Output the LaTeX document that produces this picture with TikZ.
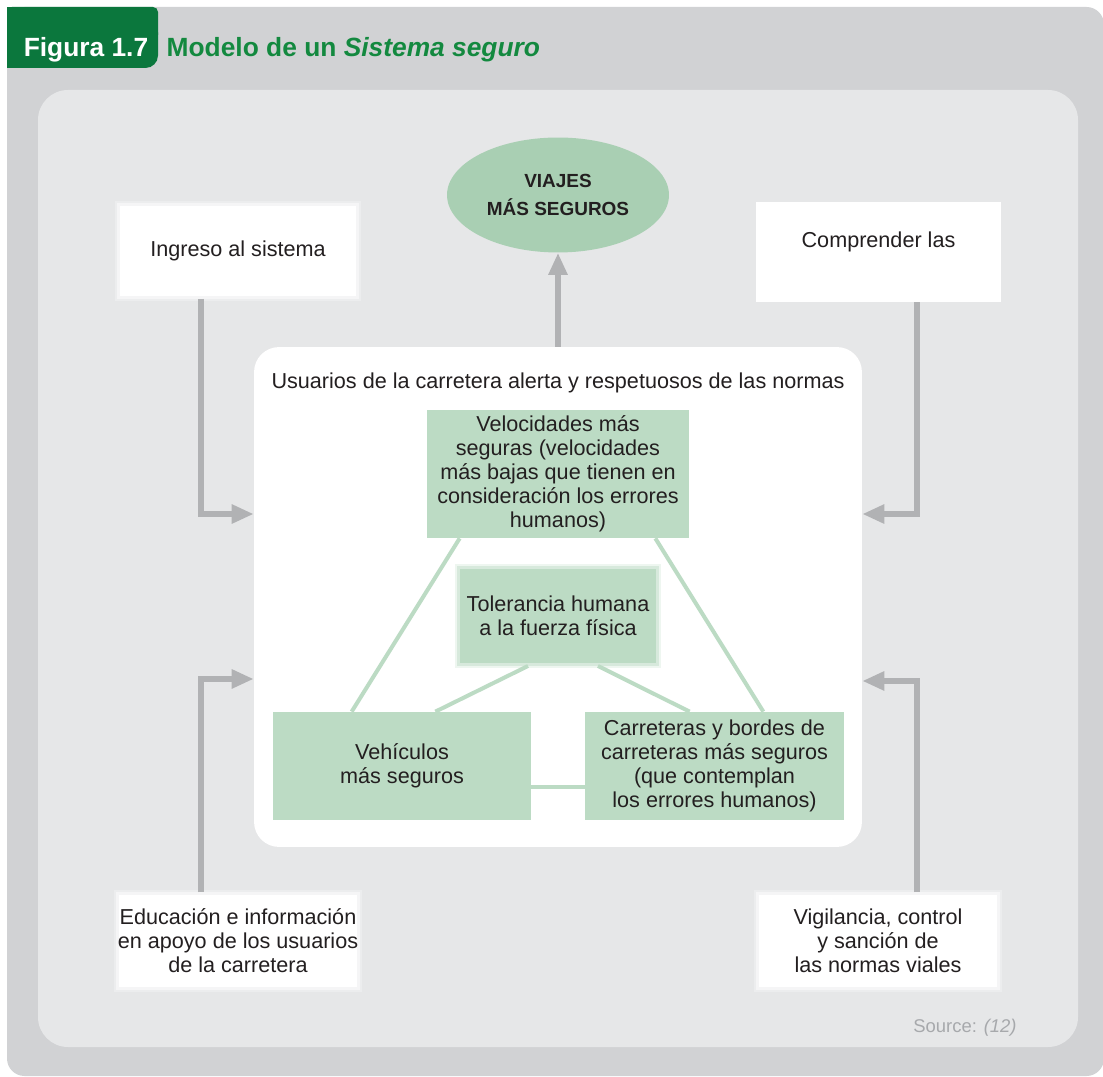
\documentclass[tikz,border=0pt]{standalone}
\usepackage{fontspec}
\setmainfont{Liberation Sans}
\usetikzlibrary{positioning,shapes.geometric,arrows.meta}

\definecolor{outergrey}{HTML}{D1D2D4}
\definecolor{panelgrey}{HTML}{E6E7E8}
\definecolor{tabgreen}{HTML}{0B773D}
\definecolor{titlegreen}{HTML}{13893F}
\definecolor{ovalgreen}{HTML}{A9CFB3}
\definecolor{boxgreen}{HTML}{BCDBC4}
\definecolor{arrowgrey}{HTML}{B1B2B4}
\definecolor{inkgrey}{HTML}{231F20}
\definecolor{notegrey}{HTML}{A7A9AC}

\begin{document}
\begin{tikzpicture}[x=0.02cm, y=-0.02cm, font=\fontsize{12.3}{13.6}\selectfont, text=inkgrey]
        \tikzstyle{heading} = [font=\fontsize{15}{16}\selectfont\bfseries, text height=0.75em, text depth=0.25em];
        \tikzstyle{sidebox} = [fill=white, align=center, inner xsep=0pt, minimum width=4.8cm, minimum height=1.9cm];
        \tikzstyle{soft} = [preaction={draw=white!25!panelgrey, line width=0.14cm}, draw=white!60!panelgrey, line width=0.06cm];
        \tikzstyle{factor} = [fill=boxgreen, align=center];
        \tikzstyle{link} = [boxgreen, line width=0.08cm];
        \tikzstyle{feed} = [arrowgrey, line width=0.12cm, -{Triangle[length=0.44cm, width=0.36cm]}];

        \useasboundingbox (0,0) rectangle (1103,1077);
        % fondo y panel
        \fill[outergrey, rounded corners=0.35cm] (7,7) rectangle (1104,1076);
        \fill[panelgrey, rounded corners=0.6cm] (38,90) rectangle (1078,1047);
        \fill[tabgreen, rounded corners=0.1cm] (7,7) rectangle (158,40);
        \fill[tabgreen, rounded corners=0.25cm] (7,20) rectangle (158,68);
        \fill[tabgreen] (7,7) rectangle (60,68);

        \node [heading, text=white] (fig) at (86,52) {Figura 1.7};
        \node [heading, text=titlegreen, right=0.12cm of fig] (titulo) {Modelo de un \textit{Sistema seguro}};

        \node [ellipse, fill=ovalgreen, minimum width=4.44cm, minimum height=2.3cm, align=center,
            font=\fontsize{10.8}{16}\selectfont\bfseries] (viajes) at (558,195) {VIAJES\\MÁS SEGUROS};

        \node [fill=white, rounded corners=0.5cm, minimum width=12.16cm, minimum height=10cm] (sistema) at (558,597) {};
        \node [below=0.4cm of sistema.north] (usuarios) {Usuarios de la carretera alerta y respetuosos de las normas};

        % factores del sistema
        \node [factor, minimum width=5.24cm, minimum height=2.56cm] (velocidades) at (558,474)
            {Velocidades más\\seguras (velocidades\\más bajas que tienen en\\consideración los errores\\humanos)};
        \node [factor, minimum width=4cm, minimum height=1.94cm, preaction={draw=boxgreen!25!white, line width=0.14cm},
            draw=boxgreen!60!white, line width=0.06cm] (tolerancia) at (558,616)
            {Tolerancia humana\\a la fuerza física};
        \node [factor, minimum width=5.16cm, minimum height=2.16cm] (vehiculos) at (402,766) {Vehículos\\más seguros};
        \node [factor, minimum width=5.18cm, minimum height=2.16cm] (carreteras) at (714.5,766)
            {Carreteras y bordes de\\carreteras más seguros\\(que contemplan\\los errores humanos)};

        \draw [link] ([xshift=0.66cm]velocidades.south west) -- ([xshift=1.58cm]vehiculos.north west);
        \draw [link] ([xshift=-0.68cm]velocidades.south east) -- ([xshift=-1.62cm]carreteras.north east);
        \draw [link] ([xshift=-0.6cm]tolerancia.south) -- ([xshift=-1.92cm]vehiculos.north east);
        \draw [link] ([xshift=0.8cm]tolerancia.south) -- ([xshift=2.1cm]carreteras.north west);
        \draw [link] ([yshift=-0.42cm]vehiculos.east) -- ([yshift=-0.42cm]carreteras.west);

        % entradas
        \node [sidebox, soft, minimum height=1.86cm] (ingreso) at (238,251) {Ingreso al sistema};
        \node [sidebox, minimum width=4.9cm, minimum height=2cm] (comprender) at (878.5,252) {Comprender las\\\mbox{}};
        \node [sidebox, soft] (educacion) at (238,941) {Educación e información\\en apoyo de los usuarios\\de la carretera};
        \node [sidebox, soft, minimum width=4.84cm] (vigilancia) at (878,941) {Vigilancia, control\\y sanción de\\las normas viales};

        \draw [feed] (sistema.north) -- (viajes.south);
        \draw [feed] ([xshift=-0.74cm]ingreso.south) |- ([yshift=1.66cm]sistema.west);
        \draw [feed] ([xshift=-0.74cm]educacion.north) |- ([yshift=-1.64cm]sistema.west);
        \draw [feed] ([xshift=0.77cm]comprender.south) |- ([yshift=1.66cm]sistema.east);
        \draw [feed] ([xshift=0.78cm]vigilancia.north) |- ([yshift=-1.68cm]sistema.east);

        \node [text=notegrey, font=\fontsize{10.5}{12}\selectfont] (fuente) at (965,1028) {Source: \textit{(12)}};
\end{tikzpicture}
\end{document}
